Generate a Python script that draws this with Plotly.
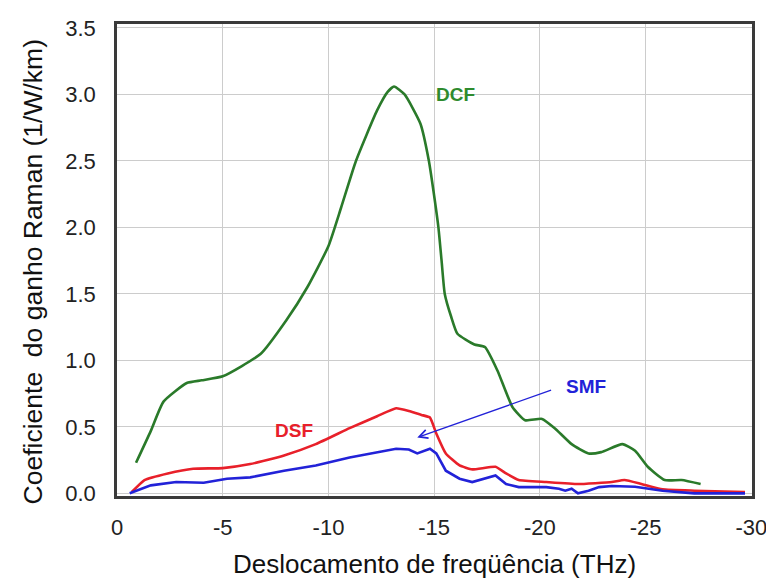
import plotly.graph_objects as go

# ---- data ----
dcf_x = [-0.9, -1.6, -2.2, -3.3, -4.0, -5.0, -6.8, -8.0, -9.0, -10.0, -10.6, -11.3, -12.3,
         -12.8, -13.1, -13.6, -14.35, -14.75, -14.97, -15.2, -15.35, -15.5, -15.8, -16.1,
         -16.9, -17.4, -18.0, -18.7, -19.3, -20.1, -20.7, -21.5, -22.3, -22.9, -23.9,
         -24.5, -25.1, -25.9, -26.7, -27.6]
dcf_y = [0.23, 0.47, 0.69, 0.83, 0.85, 0.88, 1.05, 1.30, 1.55, 1.86, 2.15, 2.50, 2.88,
         3.02, 3.06, 3.00, 2.78, 2.50, 2.27, 2.00, 1.75, 1.50, 1.33, 1.20,
         1.12, 1.10, 0.92, 0.65, 0.55, 0.56, 0.49, 0.37, 0.30, 0.31, 0.37,
         0.32, 0.20, 0.10, 0.10, 0.07]

dsf_x = [-0.7, -1.3, -2.4, -3.6, -5.0, -6.3, -7.9, -9.4, -11.0, -12.3, -13.2, -13.8,
         -14.4, -14.8, -15.1, -15.55, -16.2, -16.8, -17.9, -18.4, -19.0, -20.3, -21.8,
         -23.4, -24.0, -24.8, -25.8, -27.3, -29.7]
dsf_y = [0.01, 0.10, 0.15, 0.185, 0.19, 0.22, 0.285, 0.37, 0.49, 0.58, 0.64, 0.62,
         0.59, 0.57, 0.45, 0.30, 0.21, 0.18, 0.20, 0.15, 0.10, 0.085, 0.07,
         0.085, 0.10, 0.07, 0.03, 0.02, 0.01]

smf_x = [-0.6, -1.6, -2.8, -4.1, -5.2, -6.3, -7.9, -9.4, -11.0, -12.3, -13.2, -13.8,
         -14.2, -14.8, -15.1, -15.55, -16.2, -16.8, -17.4, -17.9, -18.4, -19.0, -20.3,
         -20.9, -21.2, -21.5, -21.8, -22.3, -22.8, -23.4, -24.5, -25.8, -27.3, -29.7]
smf_y = [0.0, 0.06, 0.085, 0.08, 0.11, 0.12, 0.17, 0.21, 0.27, 0.31, 0.335, 0.33,
         0.30, 0.335, 0.30, 0.17, 0.11, 0.085, 0.11, 0.135, 0.07, 0.047, 0.047,
         0.035, 0.02, 0.035, 0.0, 0.02, 0.047, 0.055, 0.05, 0.02, 0.0, 0.0]

x_ticks = [0, -5, -10, -15, -20, -25, -30]
x_tick_text = ["0", "-5", "-10", "-15", "-20", "-25", "-30"]
y_ticks = [0.0, 0.5, 1.0, 1.5, 2.0, 2.5, 3.0, 3.5]
y_tick_text = ["0.0", "0.5", "1.0", "1.5", "2.0", "2.5", "3.0", "3.5"]

labels = ["DCF", "DSF", "SMF"]
label_x = [-16.0, -8.35, -22.2]
label_y = [3.00, 0.47, 0.80]
arrow_tail = (-20.6, 0.78)
arrow_head = (-14.2, 0.42)

x_title = "Deslocamento de freqüência (THz)"
y_title = "Coeficiente  do ganho Raman (1/W/km)"

GREEN = "#2a7a2a"
RED = "#e8202a"
BLUE = "#2222d8"
FONT = "Liberation Sans, Arial, sans-serif"

fig = go.Figure()
fig.add_trace(go.Scatter(x=dcf_x, y=dcf_y, mode="lines", name="DCF",
                         line=dict(color=GREEN, width=2.6, shape="spline", smoothing=0.5)))
fig.add_trace(go.Scatter(x=dsf_x, y=dsf_y, mode="lines", name="DSF",
                         line=dict(color=RED, width=2.6, shape="spline", smoothing=0.4)))
fig.add_trace(go.Scatter(x=smf_x, y=smf_y, mode="lines", name="SMF",
                         line=dict(color=BLUE, width=2.6)))

label_colors = ["#2e8b2e", RED, BLUE]
for t, lx, ly, c in zip(labels, label_x, label_y, label_colors):
    fig.add_annotation(x=lx, y=ly, text="<b>%s</b>" % t, showarrow=False,
                       font=dict(family=FONT, size=19, color=c))

fig.add_annotation(x=arrow_head[0], y=arrow_head[1], ax=arrow_tail[0], ay=arrow_tail[1],
                   xref="x", yref="y", axref="x", ayref="y", text="",
                   showarrow=True, arrowhead=5, arrowsize=1.3, arrowwidth=1.3,
                   arrowcolor=BLUE)

# y-axis title (placed as rotated text, slightly below the plot centre as in the original)
fig.add_annotation(x=-0.132, y=0.474, xref="paper", yref="paper", text=y_title,
                   textangle=-90, showarrow=False, xanchor="center", yanchor="middle",
                   font=dict(family=FONT, size=26.5, color="#111111"))

axis_common = dict(showline=True, linecolor="#3a3a3a", linewidth=2.5, mirror=True,
                   showgrid=True, gridcolor="#cccccc", gridwidth=1, zeroline=False,
                   automargin=False, ticklabeloverflow="allow",
                   ticks="", tickfont=dict(family=FONT, size=22, color="#222222"))

fig.update_layout(
    width=766, height=579,
    margin=dict(l=117, r=14, t=24, b=83),
    paper_bgcolor="white", plot_bgcolor="white",
    showlegend=False,
    xaxis=dict(range=[0, -30.03], tickvals=x_ticks, ticktext=x_tick_text,
               ticklabelstandoff=10,
               title=dict(text=x_title,
                          font=dict(family=FONT, size=26, color="#111111"), standoff=22),
               **axis_common),
    yaxis=dict(range=[-0.02, 3.53], tickvals=y_ticks, ticktext=y_tick_text,
               ticklabelstandoff=14,
               **axis_common),
)

fig.write_html("out.html")
